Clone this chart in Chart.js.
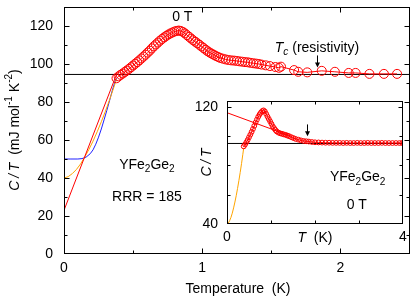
<!DOCTYPE html>
<html>
<head>
<meta charset="utf-8">
<script src="https://cdn.jsdelivr.net/npm/chart.js@4"></script>
<style>
html, body { margin: 0; padding: 0; background: #fff; }
#wrap { position: relative; width: 415px; height: 303px; }
#main { position: absolute; left: 0; top: 0; }
#inset { position: absolute; left: 190px; top: 95px; }
</style>
</head>
<body>
<div id="wrap">
  <canvas id="main" width="415" height="303"></canvas>
  <canvas id="inset" width="222" height="152"></canvas>
</div>
<script>
// main panel: C/T data (K, mJ mol-1 K-2)
var mainT = [0.380, 0.395, 0.410, 0.425, 0.440, 0.455, 0.470, 0.485, 0.500, 0.515, 0.530, 0.545, 0.560, 0.575, 0.590, 0.605,
  0.620, 0.635, 0.650, 0.665, 0.680, 0.695, 0.710, 0.725, 0.740, 0.755, 0.770, 0.785, 0.800, 0.815, 0.830, 0.845, 0.860,
  0.875, 0.890, 0.905, 0.920, 0.935, 0.950, 0.965, 0.980, 0.995, 1.010, 1.025, 1.040, 1.055, 1.070, 1.085, 1.100, 1.115,
  1.130, 1.150, 1.170, 1.190, 1.210, 1.230, 1.250, 1.270, 1.290, 1.310, 1.330, 1.350, 1.370, 1.390, 1.410, 1.430, 1.460,
  1.490, 1.530, 1.555, 1.570, 1.665, 1.695, 1.760, 1.865, 1.960, 2.060, 2.110, 2.210, 2.315, 2.410];
var mainCT = [92.5, 93.5, 94.3, 95.0, 95.8, 96.6, 97.4, 98.3, 99.2, 100.1, 101.0, 101.9, 102.9, 103.9, 104.9, 106.0,
  107.0, 108.2, 109.3, 110.3, 111.3, 112.3, 113.2, 114.0, 114.8, 115.5, 116.1, 116.6, 117.1, 117.4, 117.6, 117.4, 116.9,
  116.1, 115.2, 114.3, 113.4, 112.5, 111.7, 110.9, 110.1, 109.2, 108.4, 107.5, 106.7, 106.0, 105.4, 104.8, 104.2, 103.7,
  103.2, 102.8, 102.4, 102.1, 101.9, 101.8, 101.6, 101.4, 101.2, 101.0, 100.9, 100.6, 100.4, 100.2, 100.0, 99.7, 99.3,
  98.9, 98.4, 98.0, 98.6, 96.8, 95.9, 95.6, 96.4, 95.9, 95.3, 95.3, 94.8, 94.8, 94.8];

// low temperature extrapolations
var orangeT = [0, 0.03, 0.06, 0.09, 0.12, 0.15, 0.18, 0.21, 0.24, 0.27, 0.30, 0.33, 0.36, 0.38];
var orangeCT = [40, 40.7, 42.3, 44.5, 47.4, 51.0, 55.0, 59.4, 64.3, 69.6, 75.2, 81.2, 87.6, 92.0];
var blueT = [0, 0.05, 0.10, 0.13, 0.16, 0.19, 0.21, 0.23, 0.25, 0.27, 0.29, 0.31, 0.33, 0.35, 0.37, 0.38];
var blueCT = [50, 50, 50, 50.2, 51.0, 52.8, 54.8, 57.8, 61.5, 65.8, 70.6, 75.6, 80.8, 86.2, 91.0, 92.5];
var redFitT = [0, 0.38];
var redFitCT = [23, 94.5];
var normalCT = 94.5;
var tcResistivity = 1.83;

// inset: 0 - 4 K
var insetT = [0.38, 0.41, 0.44, 0.47, 0.50, 0.53, 0.56, 0.59, 0.62, 0.65, 0.68, 0.71, 0.74, 0.77, 0.80, 0.83, 0.86,
  0.89, 0.92, 0.95, 0.98, 1.01, 1.04, 1.07, 1.10, 1.13, 1.17, 1.21, 1.25, 1.29, 1.33, 1.37, 1.41, 1.46, 1.51, 1.56,
  1.62, 1.68, 1.74, 1.80, 1.86, 1.93, 2.00, 2.08, 2.16, 2.24, 2.32, 2.40, 2.48, 2.56, 2.64, 2.72, 2.80, 2.88, 2.96,
  3.04, 3.12, 3.20, 3.28, 3.36, 3.44, 3.52, 3.60, 3.68, 3.76, 3.84, 3.92, 3.98];
var insetCT = [93.0, 94.3, 95.8, 97.4, 99.2, 101.0, 102.9, 104.9, 107.0, 109.3, 111.3, 113.2, 114.8, 116.1, 117.1, 117.6, 116.9,
  115.2, 113.4, 111.7, 110.1, 108.4, 106.7, 105.4, 104.2, 103.2, 102.4, 101.9, 101.6, 101.2, 100.9, 100.4, 100.0, 99.3, 98.7, 98.1,
  97.6, 97.1, 96.7, 96.5, 96.3, 96.0, 95.8, 95.7, 95.6, 95.5, 95.5, 95.4, 95.4, 95.4, 95.3, 95.4, 95.3, 95.3, 95.4,
  95.3, 95.3, 95.4, 95.3, 95.3, 95.3, 95.4, 95.3, 95.3, 95.3, 95.3, 95.3, 95.3];
var insetFitT = [0, 1.45];
var insetFitCT = [116, 100];
var insetNormalCT = 95;
var insetTc = 1.82;

var FONT = '"Liberation Sans", Arial, sans-serif';
Chart.defaults.font.family = FONT;
Chart.defaults.font.size = 14;
Chart.defaults.color = '#000';

function pts(xs, ys) {
  return xs.map(function (x, i) { return { x: x, y: ys[i] }; });
}

function line(xs, ys, color) {
  return { data: pts(xs, ys), showLine: true, borderColor: color, borderWidth: 1, pointRadius: 0 };
}

// draws text made of pieces: [text, style] where style is '', 'i', 'sub', 'sup', 'isub'
function rich(ctx, parts, x, y, align, size) {
  var w = 0;
  var items = parts.map(function (p) {
    var st = p[1] || '';
    var small = st.indexOf('sub') >= 0 || st.indexOf('sup') >= 0;
    var fs = small ? size * 0.72 : size;
    var font = (st.charAt(0) === 'i' ? 'italic ' : '') + fs + 'px ' + FONT;
    ctx.font = font;
    var tw = ctx.measureText(p[0]).width;
    w += tw;
    var dy = st.indexOf('sub') >= 0 ? size * 0.3 : (st.indexOf('sup') >= 0 ? -size * 0.38 : 0);
    return { t: p[0], font: font, tw: tw, dy: dy };
  });
  var cx = align === 'center' ? x - w / 2 : (align === 'right' ? x - w : x);
  ctx.textAlign = 'left';
  ctx.textBaseline = 'middle';
  ctx.fillStyle = '#000';
  items.forEach(function (it) {
    ctx.font = it.font;
    ctx.fillText(it.t, cx, y + it.dy);
    cx += it.tw;
  });
}

function frameTicks(chart, major, minor) {
  var ctx = chart.ctx, a = chart.chartArea, xs = chart.scales.x, ys = chart.scales.y;
  var l = Math.round(a.left) + 0.5, r = Math.round(a.right) - 0.5;
  var t = Math.round(a.top) + 0.5, b = Math.round(a.bottom) - 0.5;
  ctx.save();
  ctx.strokeStyle = '#000';
  ctx.lineWidth = 1;
  ctx.beginPath();
  xs.ticks.forEach(function (tk) {
    if (tk.value <= xs.min || tk.value >= xs.max) return;
    var px = Math.round(xs.getPixelForValue(tk.value)) + 0.5;
    var len = tk.label !== '' ? major : minor;
    ctx.moveTo(px, b); ctx.lineTo(px, b - len);
    ctx.moveTo(px, t); ctx.lineTo(px, t + len);
  });
  ys.ticks.forEach(function (tk) {
    if (tk.value <= ys.min || tk.value >= ys.max) return;
    var py = Math.round(ys.getPixelForValue(tk.value)) + 0.5;
    var len = tk.label !== '' ? major : minor;
    ctx.moveTo(l, py); ctx.lineTo(l + len, py);
    ctx.moveTo(r, py); ctx.lineTo(r - len, py);
  });
  ctx.stroke();
  ctx.strokeRect(l, t, r - l, b - t);
  ctx.restore();
}

function arrow(ctx, x, y0, y1) {
  ctx.save();
  ctx.strokeStyle = '#000';
  ctx.fillStyle = '#000';
  ctx.lineWidth = 1;
  ctx.beginPath();
  ctx.moveTo(x, y0); ctx.lineTo(x, y1 - 3);
  ctx.stroke();
  ctx.beginPath();
  ctx.moveTo(x - 2.5, y1 - 5); ctx.lineTo(x + 2.5, y1 - 5); ctx.lineTo(x, y1);
  ctx.closePath();
  ctx.fill();
  ctx.restore();
}

// fixed axis boxes, no label overhang padding
function fixX(h) {
  return function (s) { s.height = h; s.paddingLeft = 0; s.paddingRight = 0; };
}
function fixY(w) {
  return function (s) { s.width = w; s.paddingTop = 0; s.paddingBottom = 0; };
}

var hiddenGrid = { display: true, drawOnChartArea: false, drawTicks: false };
var CT = 'C\u2009/\u2009T';

var mainDecor = {
  id: 'mainDecor',
  afterDraw: function (chart) {
    var ctx = chart.ctx, xs = chart.scales.x, ys = chart.scales.y;
    frameTicks(chart, 5, 3);
    var ax = Math.round(xs.getPixelForValue(tcResistivity)) + 0.5;
    arrow(ctx, ax, ys.getPixelForValue(104.5), ys.getPixelForValue(98.2));
    rich(ctx, [['0 T']], xs.getPixelForValue(0.856), ys.getPixelForValue(124.5), 'center', 14);
    rich(ctx, [['T', 'i'], ['c', 'isub'], [' (resistivity)']], xs.getPixelForValue(1.525), ys.getPixelForValue(108.2), 'left', 14);
    rich(ctx, [['YFe'], ['2', 'sub'], ['Ge'], ['2', 'sub']], xs.getPixelForValue(0.6), ys.getPixelForValue(47), 'center', 14);
    rich(ctx, [['RRR = 185']], xs.getPixelForValue(0.6), ys.getPixelForValue(29.7), 'center', 14);
    rich(ctx, [['Temperature  (K)']], 238, 289, 'center', 14);
    ctx.save();
    ctx.translate(15, 130);
    ctx.rotate(-Math.PI / 2);
    rich(ctx, [[CT, 'i'], ['  (mJ mol'], ['-1', 'sup'], [' K'], ['-2', 'sup'], [')']], 0, 0, 'center', 14);
    ctx.restore();
  }
};

new Chart(document.getElementById('main').getContext('2d'), {
  type: 'scatter',
  data: {
    datasets: [
      {
        data: pts(mainT, mainCT), showLine: true, borderColor: '#ff0000', borderWidth: 1,
        pointRadius: 4.5, pointBorderColor: '#ff0000', pointBackgroundColor: 'rgba(0,0,0,0)', pointBorderWidth: 1
      },
      line(redFitT, redFitCT, '#ff0000'),
      line(orangeT, orangeCT, '#ffa500'),
      line(blueT, blueCT, '#2020ff'),
      line([0, 2.5], [normalCT, normalCT], '#000')
    ]
  },
  options: {
    responsive: false,
    animation: false,
    events: [],
    layout: { padding: { top: 7, right: 4, left: 0, bottom: 0 } },
    plugins: { legend: { display: false }, tooltip: { enabled: false } },
    scales: {
      x: {
        type: 'linear', min: 0, max: 2.5,
        grid: hiddenGrid, border: { display: false },
        ticks: {
          stepSize: 0.5, autoSkip: false, maxRotation: 0, padding: 6,
          callback: function (v) { return Math.abs(v - Math.round(v)) < 1e-6 ? String(Math.round(v)) : ''; }
        },
        afterFit: fixX(49)
      },
      y: {
        min: 0, max: 130,
        grid: hiddenGrid, border: { display: false },
        ticks: {
          stepSize: 10, autoSkip: false, padding: 11,
          callback: function (v) { return (v % 20 === 0 && v <= 120) ? String(v) : ''; }
        },
        afterFit: fixY(64)
      }
    }
  },
  plugins: [mainDecor]
});

var insetDecor = {
  id: 'insetDecor',
  beforeDraw: function (chart) {
    var ctx = chart.ctx, a = chart.chartArea;
    ctx.save();
    ctx.fillStyle = '#fff';
    ctx.fillRect(a.left, a.top, a.right - a.left, a.bottom - a.top);
    ctx.restore();
  },
  afterDraw: function (chart) {
    var ctx = chart.ctx, xs = chart.scales.x, ys = chart.scales.y, a = chart.chartArea;
    frameTicks(chart, 4, 3);
    var ax = Math.round(xs.getPixelForValue(insetTc)) + 0.5;
    arrow(ctx, ax, ys.getPixelForValue(108), ys.getPixelForValue(100));
    rich(ctx, [['YFe'], ['2', 'sub'], ['Ge'], ['2', 'sub']], xs.getPixelForValue(2.97), ys.getPixelForValue(71.7), 'center', 14);
    rich(ctx, [['0 T']], xs.getPixelForValue(2.95), ys.getPixelForValue(53.2), 'center', 14);
    rich(ctx, [['T', 'i'], ['  (K)']], xs.getPixelForValue(2.0), a.bottom + 14, 'center', 14);
    ctx.save();
    ctx.translate(17, ys.getPixelForValue(82));
    ctx.rotate(-Math.PI / 2);
    rich(ctx, [[CT, 'i']], 0, 0, 'center', 14);
    ctx.restore();
  }
};

new Chart(document.getElementById('inset').getContext('2d'), {
  type: 'scatter',
  data: {
    datasets: [
      {
        data: pts(insetT, insetCT), showLine: true, borderColor: '#ff0000', borderWidth: 1,
        pointRadius: 2.4, pointBorderColor: '#ff0000', pointBackgroundColor: 'rgba(0,0,0,0)', pointBorderWidth: 1
      },
      line(insetFitT, insetFitCT, '#ff0000'),
      line(orangeT, orangeCT, '#ffa500'),
      line([0, 4], [insetNormalCT, insetNormalCT], '#000')
    ]
  },
  options: {
    responsive: false,
    animation: false,
    events: [],
    layout: { padding: { top: 6, right: 9, left: 0, bottom: 0 } },
    plugins: { legend: { display: false }, tooltip: { enabled: false } },
    scales: {
      x: {
        type: 'linear', min: 0, max: 4,
        grid: hiddenGrid, border: { display: false },
        ticks: {
          stepSize: 1, autoSkip: false, maxRotation: 0, padding: 5, includeBounds: false,
          callback: function (v) { return (v === 0 || v === 4) ? String(v) : ''; }
        },
        afterFit: fixX(23)
      },
      y: {
        min: 40, max: 124,
        grid: hiddenGrid, border: { display: false },
        ticks: {
          stepSize: 20, autoSkip: false, padding: 9, includeBounds: false,
          callback: function (v) { return (v === 40 || v === 120) ? String(v) : ''; }
        },
        afterFit: fixY(37)
      }
    }
  },
  plugins: [insetDecor]
});
</script>
</body>
</html>
